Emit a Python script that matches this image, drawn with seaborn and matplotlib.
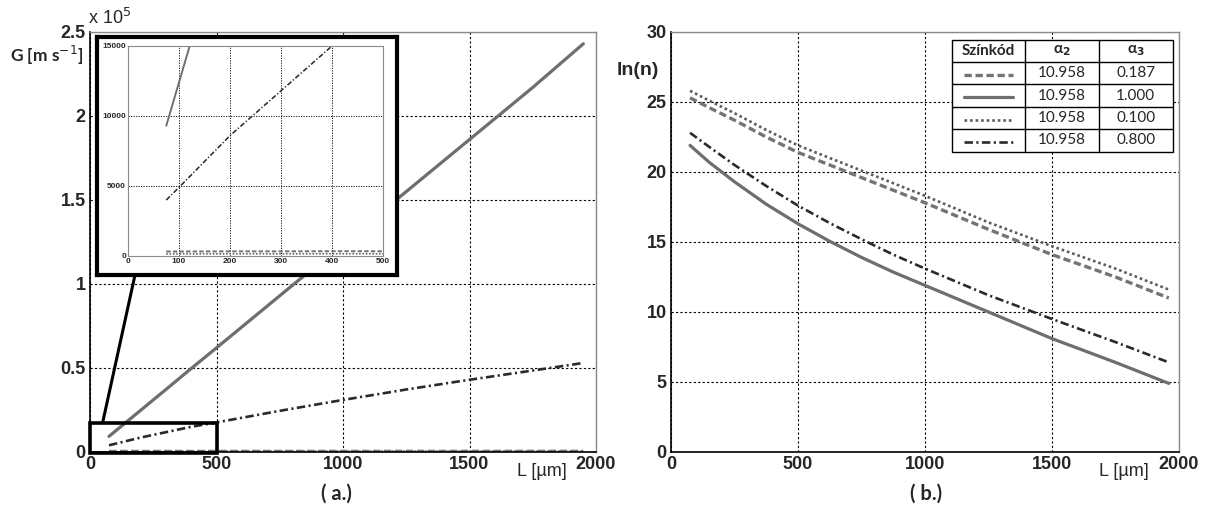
import numpy as np
import pandas as pd
import matplotlib
matplotlib.use("Agg")
import matplotlib.pyplot as plt
import seaborn as sns
from matplotlib.patches import Rectangle, ConnectionPatch
from matplotlib.lines import Line2D
from matplotlib import font_manager

# ---------------- data ----------------
# Panel (a): G [m s^-1] vs L [um]
L_a = [75, 100, 200, 300, 400, 500, 750, 1000, 1250, 1500, 1750, 1950]
G_solid = [9300, 12400, 24800, 37200, 49700, 62000, 93000, 124000, 155000, 186000, 217000, 243000]
G_dashdot = [4000, 4900, 8600, 11800, 15000, 17600, 24500, 31000, 37200, 43000, 48500, 53000]
G_dashed = [320, 320, 330, 330, 340, 340, 350, 360, 370, 380, 390, 400]
G_dotted = [150, 150, 155, 155, 160, 160, 165, 170, 175, 180, 185, 190]

# Panel (b): ln(n) vs L [um]
L_b = [75, 150, 250, 375, 500, 625, 750, 875, 1000, 1250, 1500, 1750, 1960]
ln_dashed = [25.3, 24.6, 23.7, 22.5, 21.4, 20.5, 19.6, 18.7, 17.8, 15.9, 14.1, 12.5, 11.0]
ln_solid = [21.9, 20.7, 19.3, 17.7, 16.3, 15.05, 13.9, 12.85, 11.9, 10.0, 8.1, 6.4, 4.9]
ln_dotted = [25.8, 25.1, 24.2, 23.0, 21.9, 21.0, 20.1, 19.2, 18.3, 16.4, 14.7, 13.1, 11.6]
ln_dashdot = [22.8, 21.8, 20.5, 19.0, 17.6, 16.35, 15.2, 14.1, 13.1, 11.2, 9.5, 7.85, 6.4]

# legend table
tbl_header = ["Színkód", "α$_\\mathbf{2}$", "α$_\\mathbf{3}$"]
tbl_alpha2 = ["10.958", "10.958", "10.958", "10.958"]
tbl_alpha3 = ["0.187", "1.000", "0.100", "0.800"]

x_ticks = [0, 500, 1000, 1500, 2000]
ya_ticks = [0, 50000, 100000, 150000, 200000, 250000]
ya_labels = ["0", "0.5", "1", "1.5", "2", "2.5"]
yb_ticks = [0, 5, 10, 15, 20, 25, 30]
inset_xticks = [0, 100, 200, 300, 400, 500]
inset_yticks = [0, 5000, 10000, 15000]

# ---------------- styles ----------------
sns.set_style("white")
avail = {f.name for f in font_manager.fontManager.ttflist}
narrow = "Liberation Sans Narrow" if "Liberation Sans Narrow" in avail else "Liberation Sans"
plt.rcParams["font.family"] = [narrow, "DejaVu Sans"]
plt.rcParams["mathtext.fontset"] = "dejavusans"
calib = ["Lato", "DejaVu Sans"]

styles = {
    "dashed": dict(color="#747474", lw=2.4, linestyle=(0, (2.2, 1.1))),
    "solid": dict(color="#6e6e6e", lw=2.3, linestyle="-"),
    "dotted": dict(color="#5c5c5c", lw=1.9, linestyle=(0, (1.0, 1.1))),
    "dashdot": dict(color="#2a2a2a", lw=1.9, linestyle=(0, (3.2, 1.3, 0.8, 1.3))),
}

W, H = 1205, 513
fig = plt.figure(figsize=(W / 100, H / 100), dpi=100)

def fx(px):
    return px / W

def fy(py):
    return 1 - py / H

grid_kw = dict(color="black", linestyle=(0, (2, 2)), linewidth=0.8)
TICK_FS = 13

def style_axes(ax):
    for s in ["top", "right"]:
        ax.spines[s].set_color("#8a8a8a")
        ax.spines[s].set_linewidth(1.0)
    for s in ["left", "bottom"]:
        ax.spines[s].set_color("black")
        ax.spines[s].set_linewidth(1.2)
    ax.grid(True, **grid_kw)
    ax.tick_params(axis="both", which="both", direction="in", length=3,
                   labelsize=TICK_FS, pad=3)
    for lab in ax.get_xticklabels() + ax.get_yticklabels():
        lab.set_fontweight("bold")

# ---------------- panel (a) ----------------
axA = fig.add_axes([fx(90), fy(452), fx(506), 420 / H])
dfA = pd.DataFrame({"L": L_a, "solid": G_solid, "dashdot": G_dashdot,
                    "dashed": G_dashed, "dotted": G_dotted})
for key in ["dotted", "dashed", "dashdot", "solid"]:
    sns.lineplot(data=dfA, x="L", y=key, ax=axA, legend=False, **styles[key])
axA.set_xlim(0, 2000)
axA.set_ylim(0, 250000)
axA.set_xticks(x_ticks)
axA.set_yticks(ya_ticks)
axA.set_yticklabels(ya_labels)
axA.set_xlabel("")
axA.set_ylabel("")
style_axes(axA)

fig.text(fx(110), fy(18), r"x 10$^5$", fontsize=13, ha="center", va="center")
fig.text(fx(47), fy(55), r"G [m s$^{-1}$]", fontsize=12.5, fontweight="bold",
         ha="center", va="center", family=calib)
fig.text(fx(542), fy(472), "L [µm]", fontsize=13, ha="center", va="center")
fig.text(fx(336), fy(494), "( a.)", fontsize=14.5, fontweight="bold",
         ha="center", va="center", family=calib)

# zoom box on the main axes
zoom_rect = Rectangle((0, -700), 500, 18200, fill=False, lw=2.6, ec="black",
                      clip_on=False, zorder=5)
axA.add_patch(zoom_rect)
con = ConnectionPatch(xyA=(50, 17500), coordsA=axA.transData,
                      xyB=(fx(135), fy(275)), coordsB=fig.transFigure,
                      color="black", lw=2.2, zorder=4)
fig.add_artist(con)

# inset frame
frame = fig.add_axes([fx(97), fy(275), fx(300), 238 / H])
frame.set_xticks([])
frame.set_yticks([])
frame.set_facecolor("white")
for s in frame.spines.values():
    s.set_linewidth(3.0)
    s.set_color("black")

# inset axes
axI = fig.add_axes([fx(128), fy(256), fx(255), 210 / H])
for key in ["dotted", "dashed", "dashdot", "solid"]:
    st = dict(styles[key])
    st["lw"] = st["lw"] * 0.6
    sns.lineplot(data=dfA, x="L", y=key, ax=axI, legend=False, **st)
axI.set_xlim(0, 500)
axI.set_ylim(0, 15000)
axI.set_xticks(inset_xticks)
axI.set_yticks(inset_yticks)
axI.set_xlabel("")
axI.set_ylabel("")
for s in axI.spines.values():
    s.set_color("#8a8a8a")
    s.set_linewidth(0.8)
axI.grid(True, color="black", linestyle=(0, (1.5, 1.5)), linewidth=0.6)
axI.tick_params(axis="both", direction="in", length=2, labelsize=6, pad=1.5)
for lab in axI.get_xticklabels() + axI.get_yticklabels():
    lab.set_fontweight("bold")

# ---------------- panel (b) ----------------
axB = fig.add_axes([fx(671), fy(452), fx(508), 420 / H])
dfB = pd.DataFrame({"L": L_b, "dashed": ln_dashed, "solid": ln_solid,
                    "dotted": ln_dotted, "dashdot": ln_dashdot})
for key in ["dashed", "solid", "dotted", "dashdot"]:
    sns.lineplot(data=dfB, x="L", y=key, ax=axB, legend=False, **styles[key])
axB.set_xlim(0, 2000)
axB.set_ylim(0, 30)
axB.set_xticks(x_ticks)
axB.set_yticks(yb_ticks)
axB.set_xlabel("")
axB.set_ylabel("")
style_axes(axB)
fig.text(fx(638), fy(71), "ln(n)", fontsize=14, fontweight="bold", ha="center", va="center")
fig.text(fx(1124), fy(472), "L [µm]", fontsize=13, ha="center", va="center")
fig.text(fx(926), fy(494), "( b.)", fontsize=14.5, fontweight="bold",
         ha="center", va="center", family=calib)

# legend table (axes-fraction coordinates)
col_x = [0.5525, 0.696, 0.8425, 0.9875]
top = 0.9817
row_h = 0.0533
nrows = 5
tr = axB.transAxes
axB.add_patch(Rectangle((col_x[0], top - nrows * row_h), col_x[-1] - col_x[0],
                        nrows * row_h, transform=tr, facecolor="white",
                        edgecolor="black", lw=1.0, zorder=6))
for cx in col_x[1:-1]:
    axB.add_line(Line2D([cx, cx], [top, top - nrows * row_h], transform=tr,
                        color="black", lw=1.0, zorder=7))
for r in range(1, nrows):
    yy = top - r * row_h
    axB.add_line(Line2D([col_x[0], col_x[-1]], [yy, yy], transform=tr,
                        color="black", lw=1.0, zorder=7))

def cell_center(r, c):
    return (col_x[c] + col_x[c + 1]) / 2, top - (r + 0.5) * row_h

for c, h in enumerate(tbl_header):
    x, y = cell_center(0, c)
    axB.text(x, y, h, transform=tr, ha="center", va="center", fontsize=11,
             fontweight="bold", family=calib, zorder=8)
for r, key in enumerate(["dashed", "solid", "dotted", "dashdot"]):
    x, y = cell_center(r + 1, 0)
    st = dict(styles[key])
    axB.add_line(Line2D([x - 0.048, x + 0.048], [y - 0.004, y - 0.004], transform=tr,
                        color=st["color"], lw=st["lw"], linestyle=st["linestyle"],
                        zorder=8))
    x, y = cell_center(r + 1, 1)
    axB.text(x, y, tbl_alpha2[r], transform=tr, ha="center", va="center",
             fontsize=11, family=calib, zorder=8)
    x, y = cell_center(r + 1, 2)
    axB.text(x, y, tbl_alpha3[r], transform=tr, ha="center", va="center",
             fontsize=11, family=calib, zorder=8)

fig.savefig("out.png", dpi=100)
